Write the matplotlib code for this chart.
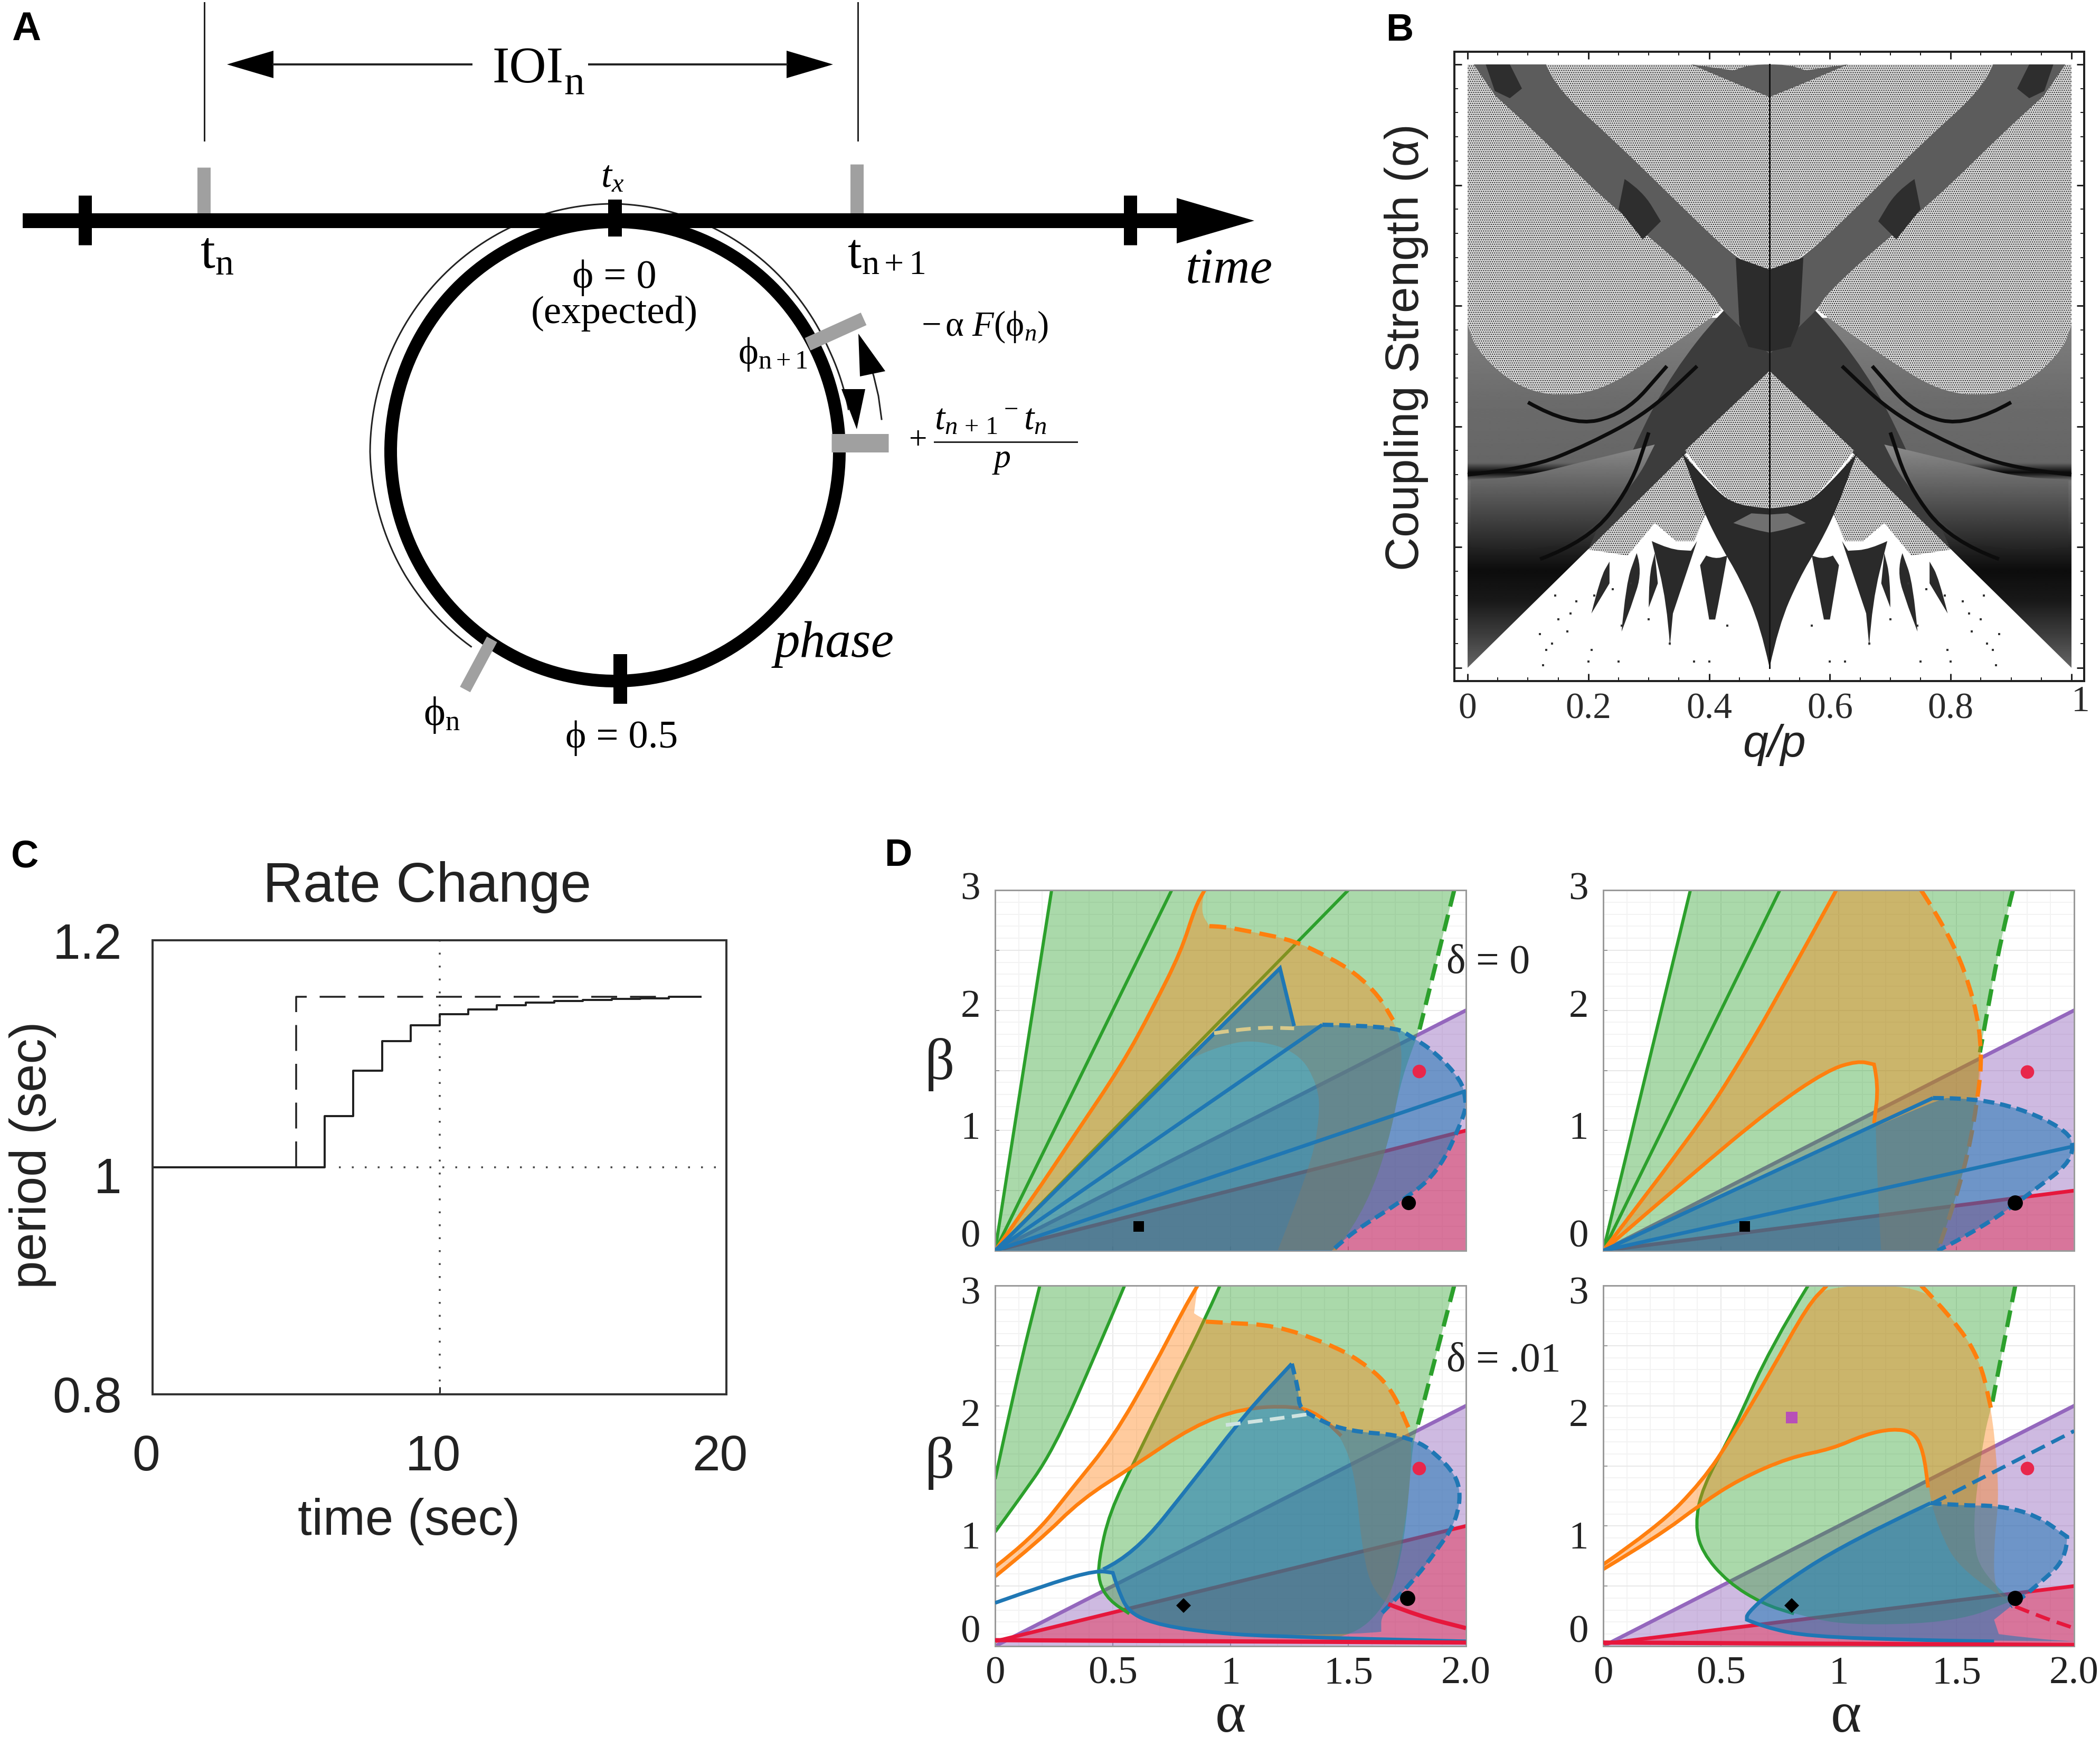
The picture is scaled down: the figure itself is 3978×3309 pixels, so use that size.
import numpy as np
import matplotlib
matplotlib.use('Agg')
import matplotlib.pyplot as plt
from matplotlib.patches import Polygon, PathPatch
from matplotlib.path import Path
from matplotlib.transforms import ScaledTranslation

W, H = 3978, 3309
DPI = 100
SERIF = 'Liberation Serif'
SANS = 'Liberation Sans'

plt.rcParams['font.family'] = [SERIF, 'DejaVu Serif']
plt.rcParams['mathtext.fontset'] = 'custom'
plt.rcParams['mathtext.rm'] = SERIF
plt.rcParams['mathtext.it'] = SERIF + ':italic'
plt.rcParams['hatch.linewidth'] = 0.9

# ---- panel A, diagram (image pixels) ----
time_axis_x = [43, 2240]
time_axis_y = [418, 418]
time_head = [(2229, 375), (2376, 418), (2229, 461)]
time_ticks_x = [161, 2141]
time_ticks_y = [370, 464]
grey_ticks = [(386, 317, 405), (1623, 311, 405)]
ioi_guides_x = [387, 1625]
ioi_guides_y = [5, 266]
ioi_y = 122
ioi_left = [518, 893]
ioi_right = [1116, 1490]
ioi_head_left = [(430, 122), (518, 96), (518, 148)]
ioi_head_right = [(1578, 122), (1490, 96), (1490, 148)]
circle_centre = (1165, 855)
circle_radii = (425, 435)
thin_arc_angle = [-143, -120, -90, -45, 0, 30, 50, 65, 80]
thin_arc_offset = [28, 34, 39, 36, 34, 28, 24, 22, 24]
down_head = [(1594, 737), (1639, 737), (1623, 813)]
up_arrow_x = [1670, 1664, 1655, 1642]
up_arrow_y = [794, 750, 712, 670]
up_head = [(1626, 632), (1677, 703), (1629, 713)]
phi_next_bar = [(1530, 652), (1636, 604)]
phi_right_bar = [(1575, 839), (1683, 839)]
phi_n_bar = [(932, 1211), (881, 1306)]
circle_tick_top = [(1165, 378), (1165, 448)]
circle_tick_bottom = [(1175, 1239), (1175, 1333)]
fraction_bar = [(1770, 837), (2040, 837)]

# ---- panel B, regions, left half (mirrored about 0.5) ----
b_xticks = [0, 0.2, 0.4, 0.6, 0.8, 1]
b_xticklabels = ['0', '0.2', '0.4', '0.6', '0.8', '']
b_yticks = [0, 1, 2, 3, 4, 5]
b_grad_alpha = [0, 0.2, 0.55, 0.8, 1.0, 1.3, 1.55, 1.62, 1.7, 2.2, 2.7, 2.9]
b_grad_grey = [0.40, 0.28, 0.10, 0.05, 0.14, 0.32, 0.45, 0.04, 0.40, 0.42, 0.48, 0.5]
b_dark_wedge = [(0, 0), (.5, 2.46), (.5, 3.3), (.42, 2.96), (.317, 2.6), (.22, 2.29), (.134, 2.25),
                (.07, 2.37), (.014, 2.64), (0, 2.85)]
b_fan = [(.5, 2.46), (.36, 1.77), (.2, .98), (.28, 1.9), (.34, 2.45), (.42, 2.96), (.5, 3.3)]
b_lobe = [(.005, 1.0), (.1, .95), (.2, 1.1), (.28, 1.55), (.31, 1.85), (.2, 1.72), (.09, 1.58), (.005, 1.56)]
b_lobe_alpha = [0.9, 1.85]
b_lobe_grey = [0.10, 0.55]
b_vein_1 = [(0, 1.6), (.1, 1.65), (.2, 1.85), (.3, 2.12), (.38, 2.5)]
b_vein_2 = [(.1, 2.2), (.17, 2.0), (.26, 2.1), (.33, 2.5)]
b_vein_3 = [(.12, .9), (.2, 1.05), (.27, 1.5), (.3, 1.95)]
b_band = [(.01, 5), (.13, 5), (.143, 4.82), (.245, 4.36), (.357, 3.81), (.436, 3.43), (.5, 3.23), (.5, 2.6),
          (.42, 2.96), (.412, 3.06), (.35, 3.36), (.253, 3.77), (.197, 4.02), (.118, 4.41), (.046, 4.74)]
b_band_dark = [(.26, 4.05), (.29, 3.95), (.32, 3.7), (.29, 3.55), (.25, 3.8)]
b_corner_dark = [(.03, 5), (.07, 5), (.09, 4.8), (.07, 4.72), (.045, 4.78)]
b_centre_block = [(.444, 3.4), (.5, 3.3), (.5, 2.62), (.465, 2.66), (.45, 2.85)]
b_sp_top = [(.13, 5), (.5, 5), (.5, 3.23), (.436, 3.43), (.357, 3.81), (.245, 4.36), (.143, 4.82)]
b_top_arc = [(.37, 5), (.44, 4.85), (.5, 4.73), (.5, 5), (.47, 5), (.44, 4.95)]
b_sp_left = [(0, 5), (.01, 5), (.046, 4.74), (.118, 4.41), (.197, 4.02), (.253, 3.77), (.35, 3.36), (.412, 3.06),
             (.42, 2.96), (.317, 2.6), (.22, 2.29), (.134, 2.25), (.07, 2.37), (.014, 2.64), (0, 2.85)]
b_sp_diamond = [(.5, 2.46), (.36, 1.80), (.412, 1.47), (.445, 1.35), (.47, 1.33), (.5, 1.32)]
b_sp_lower = [(.36, 1.77), (.2, .98), (.265, .93), (.31, 1.2), (.345, 1.05), (.375, 1.05), (.41, 1.45)]
b_half_tongue = [(.5, 0), (.485, .35), (.45, .75), (.42, 1.0), (.39, 1.3), (.355, 1.78), (.41, 1.47), (.445, 1.35),
                 (.5, 1.32)]
b_half_lobe = [(.44, 1.2), (.47, 1.15), (.5, 1.12), (.5, 1.27), (.47, 1.28)]
b_tongues = [
    [(.335, .18), (.33, .55), (.305, 1.05), (.335, .98), (.37, .97), (.38, 1.05), (.36, .75), (.34, .45)],
    [(.40, .4), (.385, .85), (.395, .93), (.41, .9), (.43, .93), (.42, .65), (.41, .4)],
    [(.255, .3), (.262, .7), (.28, .95), (.29, .8), (.27, .5)],
    [(.205, .45), (.22, .75), (.235, .88), (.235, .7)],
    [(.3, .5), (.3, .75), (.31, .95), (.315, .7)],
]
b_dot_q = [.125, .2, .25, .335, .375, .4, .43, .255, .205, .165, .14, .15, .18, .21, .24, .27, .3, .13, .17, .12, .145]
b_dot_a = [.02, .05, .05, .2, .05, .05, .35, .35, .15, .3, .2, .4, .55, .6, .65, .7, .4, .15, .45, .28, .6]

# ---- panel C ----
c_step_t = [0, 6, 7, 8, 9, 10, 11, 12, 13, 14, 15, 16, 17, 18, 19.1]
c_step_p = [1.0, 1.045, 1.085, 1.111, 1.125, 1.135, 1.139, 1.143, 1.145, 1.1467, 1.1475, 1.1484, 1.149, 1.15, 1.15]
c_target_t = [5, 5, 19]
c_target_p = [1.0, 1.15, 1.15]
c_dot_h_t = [6.5, 20]
c_dot_v_p = [0.8, 1.2]

# ---- panel D, boundaries (alpha, beta) ----
d_xticks = [0, 0.5, 1, 1.5, 2]
d_xticklabels = ['0', '0.5', '1', '1.5', '2.0']
d_yticks = [0, 1, 2, 3]

d1_green = [(0, 0), (.24, 3), (1.95, 3), (1.80, 1.82), (1.77, 1.67), (1.72, 1.38), (1.67, .89), (1.58, .39), (1.45, 0)]
d1_green_lines = [[(0, 0), (.24, 3)], [(0, 0), (.75, 3)], [(0, 0), (1.5, 3)]]
d1_green_dash = [(1.95, 3), (1.80, 1.82)]
d1_orange = [(0, 0), (.16, .44), (.33, .94), (.54, 1.55), (.67, 2.02), (.79, 2.49), (.85, 2.86), (.89, 3), (.87, 2.83), (.91, 2.70),
             (.96, 2.70), (1.1, 2.65), (1.27, 2.58), (1.42, 2.44), (1.53, 2.31), (1.63, 2.12), (1.69, 1.92), (1.73, 1.70),
             (1.72, 1.38), (1.67, .89), (1.58, .39), (1.45, 0), (1.2, 0),
             (1.34, .69), (1.38, 1.13), (1.37, 1.38), (1.29, 1.65), (1.10, 1.76), (.95, 1.70), (.81, 1.58)]
d1_orange_line = [(0, 0), (.16, .44), (.33, .94), (.54, 1.55), (.67, 2.02), (.79, 2.49), (.85, 2.86), (.89, 3)]
d1_orange_dash = [(.91, 2.70), (.96, 2.70), (1.1, 2.65), (1.27, 2.58), (1.42, 2.44), (1.53, 2.31), (1.63, 2.12), (1.69, 1.92)]
d1_blue = [(0, 0), (1.21, 2.35), (1.24, 2.02), (1.27, 1.87), (1.39, 1.88), (1.69, 1.87), (1.77, 1.78), (1.87, 1.65),
           (1.98, 1.42), (2.0, 1.25), (1.995, 1.13), (1.88, .64), (1.71, .39), (1.53, .17), (1.43, 0)]
d1_blue_lines = [[(0, 0), (1.21, 2.35), (1.27, 1.87)], [(0, 0), (1.39, 1.88)], [(0, 0), (2, 1.33)]]
d1_blue_dash = [(1.39, 1.88), (1.69, 1.87), (1.77, 1.78), (1.87, 1.65), (1.98, 1.42), (2.0, 1.25), (1.995, 1.13),
                (1.88, .64), (1.71, .39), (1.53, .17), (1.43, 0)]
d1_pale_dash = [(.93, 1.81), (1.1, 1.86), (1.27, 1.85)]
d1_purple = [(0, 0), (2, 2), (2, 0)]
d1_red = [(0, 0), (2, 1), (2, 0)]
d1_marks = [('s', .61, .2, 'black', 13), ('o', 1.755, .40, 'black', 17), ('o', 1.80, 1.495, '#e8274b', 16)]

d2_green = [(0, 0), (.37, 3), (1.74, 3), (1.69, 2.61), (1.62, 1.87), (1.60, 1.65), (1.59, 1.26), (1.55, .81),
            (1.49, .39), (1.42, 0)]
d2_green_lines = [[(0, 0), (.37, 3)], [(0, 0), (.75, 3)]]
d2_green_dash = [(1.74, 3), (1.69, 2.61), (1.62, 1.87), (1.60, 1.65)]
d2_orange = [(0, 0), (.39, .99), (.60, 1.63), (.81, 2.36), (.99, 3), (1.35, 3), (1.48, 2.61), (1.58, 2.07), (1.61, 1.63),
             (1.59, 1.26), (1.55, .81), (1.49, .39), (1.42, 0), (1.18, 0), (1.15, 1.06), (1.17, 1.38), (1.15, 1.55),
             (1.08, 1.58), (.95, 1.50), (.71, 1.18), (.39, .66)]
d2_orange_line = [(0, 0), (.39, .99), (.60, 1.63), (.81, 2.36), (.99, 3)]
d2_orange_line2 = [(0, 0), (.39, .66), (.71, 1.18), (.95, 1.50), (1.08, 1.58), (1.15, 1.55), (1.17, 1.38), (1.15, 1.06)]
d2_orange_dash = [(1.35, 3), (1.48, 2.61), (1.58, 2.07), (1.61, 1.63), (1.59, 1.26), (1.55, .81), (1.49, .39), (1.42, 0)]
d2_blue = [(0, 0), (1.40, 1.27), (1.52, 1.27), (1.68, 1.23), (1.84, 1.13), (1.97, .99), (2.0, .87), (1.97, .71),
           (1.84, .52), (1.69, .30), (1.52, .10), (1.42, 0)]
d2_blue_lines = [[(0, 0), (1.40, 1.27)], [(0, 0), (2, .87)]]
d2_blue_dash = [(1.40, 1.27), (1.52, 1.27), (1.68, 1.23), (1.84, 1.13), (1.97, .99), (2.0, .87), (1.97, .71),
                (1.84, .52), (1.69, .30), (1.52, .10), (1.42, 0)]
d2_purple = [(0, 0), (2, 2), (2, 0)]
d2_red = [(0, 0), (2, .5), (2, 0)]
d2_marks = [('s', .60, .2, 'black', 13), ('o', 1.75, .40, 'black', 18), ('o', 1.80, 1.49, '#e8274b', 16)]

d3_green_a = [(0, 1.39), (.09, 2.21), (.19, 3), (.55, 3), (.43, 2.44), (.245, 1.62), (.09, 1.19), (0, .95)]
d3_green_b = [(.955, 3), (.88, 2.67), (.74, 2.13), (.60, 1.57), (.485, 1.11), (.44, .71), (.44, .53), (.485, .38),
              (.57, .27), (.67, .19), (.83, .12), (1.2, .07), (1.5, .05), (1.67, .35), (1.74, .86), (1.77, 1.62),
              (1.79, 1.80), (1.95, 3)]
d3_green_lines = [[(0, 1.39), (.09, 2.21), (.19, 3)], [(.55, 3), (.43, 2.44), (.245, 1.62), (.09, 1.19), (0, .95)],
                  [(.955, 3), (.88, 2.67), (.74, 2.13), (.60, 1.57), (.485, 1.11), (.44, .71), (.44, .53), (.485, .38),
                   (.57, .27)]]
d3_green_dash = [(1.95, 3), (1.79, 1.80)]
d3_orange = [(0, .66), (.16, .90), (.33, 1.32), (.50, 1.73), (.67, 2.31), (.80, 2.8), (.86, 3), (.845, 2.77), (.895, 2.70),
             (.98, 2.69), (1.19, 2.67), (1.41, 2.52), (1.55, 2.38), (1.68, 2.16), (1.76, 1.80), (1.77, 1.57), (1.75, 1.11), (1.70, .6),
             (1.67, .35), (1.60, .45), (1.555, .86), (1.53, 1.42), (1.47, 1.75), (1.375, 1.93), (1.27, 2.0), (1.05, 1.98),
             (.84, 1.83), (.59, 1.5), (.365, 1.22), (.19, .88), (0, .58)]
d3_orange_line = [(0, .66), (.16, .90), (.33, 1.32), (.50, 1.73), (.67, 2.31), (.80, 2.8), (.86, 3)]
d3_orange_line2 = [(0, .58), (.19, .88), (.365, 1.22), (.59, 1.5), (.84, 1.83), (1.05, 1.98), (1.27, 2.0), (1.375, 1.93),
                   (1.47, 1.75)]
d3_orange_dash = [(.895, 2.70), (.98, 2.69), (1.19, 2.67), (1.41, 2.52), (1.55, 2.38), (1.68, 2.16), (1.76, 1.80)]
d3_blue = [(.43, .63), (.59, .76), (.84, 1.37), (1.07, 1.95), (1.26, 2.35), (1.29, 2.13), (1.29, 2.0), (1.33, 1.93),
           (1.48, 1.79), (1.77, 1.75), (1.92, 1.52), (1.98, 1.32), (1.96, 1.04), (1.87, .78), (1.77, .53), (1.64, .27),
           (1.64, .12), (1.56, .10), (1.0, .09), (.71, .17), (.57, .27), (.52, .48), (.50, .61)]
d3_blue_lines = [[(0, .36), (.245, .53), (.43, .63), (.50, .61), (.52, .48), (.57, .27), (.71, .17), (.93, .11), (1.19, .08),
                  (2, .04)], [(.46, .64), (.59, .76), (.84, 1.37), (1.07, 1.95), (1.26, 2.35)]]
d3_blue_dash = [(1.26, 2.35), (1.29, 2.13), (1.29, 2.0), (1.33, 1.93), (1.48, 1.79), (1.77, 1.75), (1.92, 1.52), (1.98, 1.32),
                (1.96, 1.04), (1.87, .78), (1.77, .53), (1.64, .27)]
d3_pale_dash = [(.98, 1.84), (1.15, 1.88), (1.33, 1.93)]
d3_purple = [(0, 0), (2, 2), (2, 0)]
d3_red = [(0, .04), (2, 1.0), (2, .03)]
d3_red_curve = [(1.67, .35), (1.8, .25), (2.0, .15)]
d3_red_base = [(0, .05), (2, .03)]
d3_marks = [('D', .80, .34, 'black', 12), ('o', 1.75, .40, 'black', 18), ('o', 1.80, 1.48, '#e8274b', 16)]

d4_green = [(.87, 3), (.71, 2.49), (.55, 1.78), (.42, 1.32), (.39, 1.01), (.42, .78), (.53, .53), (.68, .35), (.81, .27),
            (1.03, .17), (1.5, .2), (1.74, .38), (1.60, .60), (1.57, .95), (1.59, 1.37), (1.62, 1.78), (1.65, 2.0),
            (1.68, 2.31), (1.75, 3)]
d4_green_lines = [[(.87, 3), (.71, 2.49), (.55, 1.78), (.42, 1.32), (.39, 1.01), (.42, .78), (.53, .53), (.68, .35), (.81, .27)]]
d4_green_dash = [(1.75, 3), (1.68, 2.31), (1.65, 2.0)]
d4_orange = [(0, .68), (.23, .99), (.42, 1.37), (.55, 1.75), (.71, 2.28), (.87, 2.84), (.95, 3), (1.35, 3), (1.48, 2.74),
             (1.60, 2.39), (1.65, 1.95), (1.67, 1.57), (1.68, 1.22), (1.66, .86), (1.66, .48), (1.72, .38), (1.52, .61),
             (1.42, .99), (1.38, 1.32), (1.36, 1.62), (1.32, 1.78), (1.23, 1.81), (1.11, 1.76), (.97, 1.64), (.79, 1.57),
             (.58, 1.39), (.42, 1.19), (.23, .91), (0, .64)]
d4_orange_line = [(0, .68), (.23, .99), (.42, 1.37), (.55, 1.75), (.71, 2.28), (.87, 2.84), (.95, 3)]
d4_orange_line2 = [(0, .64), (.23, .91), (.42, 1.19), (.58, 1.39), (.79, 1.57), (.97, 1.64), (1.11, 1.76), (1.23, 1.81),
                   (1.32, 1.78), (1.36, 1.62), (1.38, 1.32)]
d4_orange_dash = [(1.35, 3), (1.48, 2.74), (1.60, 2.39), (1.65, 1.95)]
d4_blue = [(.61, .27), (.71, .45), (1.03, .86), (1.39, 1.19), (1.52, 1.17), (1.68, 1.17), (1.84, 1.09), (1.97, .91), (1.97, .73),
           (1.84, .50), (1.73, .33), (1.66, .22), (1.68, .10), (1.84, .06), (2, .04), (1.35, .05), (.87, .08), (.68, .16), (.61, .22)]
d4_blue_lines = [[(1.39, 1.19), (1.03, .86), (.71, .45), (.61, .27), (.61, .22), (.68, .16), (.87, .08), (1.35, .05), (1.66, .04)]]
d4_blue_dash = [(1.39, 1.19), (1.52, 1.17), (1.68, 1.17), (1.84, 1.09), (1.97, .91), (1.97, .73), (1.84, .50), (1.73, .33)]
d4_blue_dash2 = [(1.40, 1.19), (2, 1.79)]
d4_purple = [(0, 0), (2, 2), (2, 0)]
d4_red = [(0, .02), (2, .5), (2, 0)]
d4_red_curve = [(1.75, .33), (1.85, .25), (2.0, .15)]
d4_red_base = [(0, .03), (2, .01)]
d4_marks = [('D', .80, .34, 'black', 12), ('o', 1.75, .40, 'black', 18), ('o', 1.80, 1.48, '#e8274b', 16),
            ('s', .80, 1.90, '#b84fb8', 14)]

GREEN = '#2ca02c'
ORANGE = '#ff7f0e'
BLUE = '#1f77b4'
PURPLE = '#9467bd'
RED = '#e6173c'


def px(v):
    # line widths below are given in image pixels
    return v * 72 / DPI


def make_axes(fig, left, top, right, bottom):
    return fig.add_axes([left / W, 1 - bottom / H, (right - left) / W, (bottom - top) / H])


def mirrored(points):
    return [(1 - q, a) for q, a in points]


def xy(points):
    return [p[0] for p in points], [p[1] for p in points]


def smooth_path(points, closed=False, aspect=2.0, corner=55):
    # quadratic bezier path through the read points, sharp turns stay corners
    p = np.array(points, float)
    verts = [p[0]]
    codes = [Path.MOVETO]
    for i in range(1, len(p) - 1):
        a = (p[i] - p[i - 1]) * [aspect, 1]
        b = (p[i + 1] - p[i]) * [aspect, 1]
        cosang = np.dot(a, b) / (np.linalg.norm(a) * np.linalg.norm(b) + 1e-9)
        if np.degrees(np.arccos(np.clip(cosang, -1, 1))) > corner:
            verts.append(p[i])
            codes.append(Path.LINETO)
        else:
            verts += [p[i], (p[i] + p[i + 1]) / 2]
            codes += [Path.CURVE3, Path.CURVE3]
    verts.append(p[-1])
    codes.append(Path.LINETO)
    if closed:
        verts.append(p[0])
        codes.append(Path.CLOSEPOLY)
    return Path(verts, codes)


def curve(ax, points, colour, width, zorder, dashes=None):
    style = (0, dashes) if dashes else 'solid'
    ax.add_patch(PathPatch(smooth_path(points), facecolor='none', edgecolor=colour, lw=px(width), ls=style, zorder=zorder,
                           capstyle='butt'))


def region(ax, points, colour, alpha, zorder):
    ax.add_patch(PathPatch(smooth_path(points, closed=True), facecolor=colour, edgecolor='none', alpha=alpha, lw=0,
                           zorder=zorder))


def shift_label(label, dx, dy):
    label.set_transform(label.get_transform() + ScaledTranslation(dx / DPI, dy / DPI, label.figure.dpi_scale_trans))


def draw_panel_a(ov):
    ov.plot(time_axis_x, time_axis_y, color='black', lw=px(28), solid_capstyle='butt', zorder=4)
    ov.add_patch(Polygon(time_head, color='black', lw=0, zorder=4))
    for x in time_ticks_x:
        ov.plot([x, x], time_ticks_y, color='black', lw=px(25), solid_capstyle='butt', zorder=4)
    for x, y0, y1 in grey_ticks:
        ov.plot([x, x], [y0, y1], color='#a0a0a0', lw=px(25), solid_capstyle='butt', zorder=2)
    for x in ioi_guides_x:
        ov.plot([x, x], ioi_guides_y, color='#222222', lw=px(3))
    ov.plot(ioi_left, [ioi_y, ioi_y], color='#222222', lw=px(4))
    ov.plot(ioi_right, [ioi_y, ioi_y], color='#222222', lw=px(4))
    ov.add_patch(Polygon(ioi_head_left, color='black', lw=0))
    ov.add_patch(Polygon(ioi_head_right, color='black', lw=0))

    theta = np.linspace(0, 2 * np.pi, 400)
    ov.plot(circle_centre[0] + circle_radii[0] * np.sin(theta), circle_centre[1] - circle_radii[1] * np.cos(theta),
            color='black', lw=px(24), zorder=3)
    deg = np.linspace(thin_arc_angle[0], thin_arc_angle[-1], 300)
    off = np.interp(deg, thin_arc_angle, thin_arc_offset)
    ov.plot(circle_centre[0] + (circle_radii[0] + off) * np.sin(np.radians(deg)),
            circle_centre[1] - (circle_radii[1] + off) * np.cos(np.radians(deg)), color='#222222', lw=px(3), zorder=2)
    ov.add_patch(Polygon(down_head, color='black', lw=0, zorder=6))
    ov.plot(up_arrow_x, up_arrow_y, color='#222222', lw=px(3), zorder=5)
    ov.add_patch(Polygon(up_head, color='black', lw=0, zorder=6))
    for bar, width in ((phi_next_bar, 26), (phi_right_bar, 35), (phi_n_bar, 22)):
        ov.plot(*xy(bar), color='#a0a0a0', lw=px(width), solid_capstyle='butt', zorder=5)
    for tick in (circle_tick_top, circle_tick_bottom):
        ov.plot(*xy(tick), color='black', lw=px(26), solid_capstyle='butt', zorder=6)
    ov.plot(*xy(fraction_bar), color='#222222', lw=px(3))

    ov.text(933, 156, 'IOI', fontsize=70, va='baseline')
    ov.text(1068, 178, 'n', fontsize=56, va='baseline')
    ov.text(379, 507, r'$\mathrm{t_n}$', fontsize=72, va='baseline')
    ov.text(1605, 507, r'$\mathrm{t_{n+1}}$', fontsize=68, va='baseline')
    ov.text(1160, 354, r'$t_x$', fontsize=52, va='baseline', ha='center')
    ov.text(2246, 536, 'time', fontsize=69, style='italic', va='baseline')
    ov.text(1164, 545, 'ϕ = 0', fontsize=55, va='baseline', ha='center')
    ov.text(1164, 612, '(expected)', fontsize=54, va='baseline', ha='center')
    ov.text(1398, 689, r'$\mathrm{ϕ_{n+1}}$', fontsize=52, va='baseline')
    ov.text(1745, 636, r'$-\,\mathrm{α}\ F(\mathrm{ϕ}_n)$', fontsize=48, va='baseline')
    ov.text(1722, 850, '+', fontsize=44, va='baseline')
    ov.text(1770, 813, r'$t_{n\,+\,1}\,^{-}\,t_n$', fontsize=50, va='baseline')
    ov.text(1897, 885, '$p$', fontsize=46, va='baseline', ha='center')
    ov.text(1467, 1244, 'phase', fontsize=70, style='italic', va='baseline')
    ov.text(802, 1373, r'$\mathrm{ϕ_n}$', fontsize=56, va='baseline')
    ov.text(1071, 1416, 'ϕ = 0.5', fontsize=54, va='baseline')


def speckle(ax, points, zorder=3):
    for pts in (points, mirrored(points)):
        ax.add_patch(PathPatch(smooth_path(pts, closed=True, aspect=5, corner=40), facecolor='#d6d6d6', edgecolor='#101010',
                               hatch='....', lw=0, zorder=zorder))


def solid(ax, points, grey, zorder=4):
    for pts in (points, mirrored(points)):
        ax.add_patch(PathPatch(smooth_path(pts, closed=True, aspect=5, corner=40), facecolor=grey, edgecolor='none', lw=0,
                               zorder=zorder))


def gradient(ax, points, stops_a, stops_g, zorder=2):
    rows = np.linspace(stops_a[0], stops_a[-1], 300)
    col = np.interp(rows, stops_a, stops_g).reshape(-1, 1)
    for pts in (points, mirrored(points)):
        im = ax.imshow(col, origin='lower', cmap='gray', vmin=0, vmax=1, aspect='auto', interpolation='bilinear',
                       extent=(0, 1, stops_a[0], stops_a[-1]), zorder=zorder)
        patch = PathPatch(smooth_path(pts, closed=True, aspect=5, corner=40), facecolor='none', edgecolor='none')
        ax.add_patch(patch)
        im.set_clip_path(patch)


def draw_panel_b(fig):
    ax = make_axes(fig, 2755, 98, 3948, 1290)
    gradient(ax, b_dark_wedge, b_grad_alpha, b_grad_grey)
    solid(ax, b_fan, '#3c3c3c', 2.5)
    gradient(ax, b_lobe, b_lobe_alpha, b_lobe_grey, zorder=2.6)
    for vein in (b_vein_1, b_vein_2, b_vein_3):
        for pts in (vein, mirrored(vein)):
            ax.add_patch(PathPatch(smooth_path(pts, aspect=5, corner=80), facecolor='none', edgecolor='#0c0c0c', lw=px(7),
                                   zorder=2.8))
    speckle(ax, b_sp_top)
    speckle(ax, b_sp_left)
    speckle(ax, b_sp_diamond)
    speckle(ax, b_sp_lower)
    solid(ax, b_band, '#5c5c5c')
    solid(ax, b_top_arc, '#5e5e5e')
    solid(ax, b_band_dark, '#2e2e2e', 5)
    solid(ax, b_corner_dark, '#2e2e2e', 5)
    solid(ax, b_centre_block, '#2c2c2c', 5)
    solid(ax, b_half_tongue, '#2a2a2a', 6)
    solid(ax, b_half_lobe, '#707070', 6.5)
    for tongue in b_tongues:
        solid(ax, tongue, '#2a2a2a', 6)
    ax.scatter(list(b_dot_q) + [1 - q for q in b_dot_q], list(b_dot_a) * 2, s=px(4) ** 2, marker='s', color='#333333',
               lw=0, zorder=6)
    ax.plot([0.5, 0.5], [0, 5], color='#111111', lw=px(3), zorder=7)

    ax.set_xlim(-0.0219, 1.021)
    ax.set_ylim(-0.11, 5.105)
    ax.set_xticks(b_xticks)
    ax.set_xticklabels(b_xticklabels, fontsize=50, color='#2a2a2a')
    ax.set_yticks(b_yticks)
    ax.set_yticklabels([])
    ax.set_xticks(np.arange(0, 1.01, 0.05), minor=True)
    ax.set_yticks(np.arange(0, 5.01, 0.2), minor=True)
    ax.tick_params(which='major', direction='in', top=True, right=True, length=10, width=px(3), pad=16, color='#222222')
    ax.tick_params(which='minor', direction='in', top=True, right=True, length=5, width=px(2), color='#222222')
    for sp in ax.spines.values():
        sp.set_linewidth(px(4))
        sp.set_color('#222222')
    ax.set_zorder(2)


def draw_panel_c(fig):
    ax = make_axes(fig, 289, 1781, 1376, 2641)
    ax.step(c_step_t, c_step_p, where='post', color='#222222', lw=px(4))
    ax.plot(c_target_t, c_target_p, color='#222222', lw=px(3.5), dashes=(14, 7))
    ax.plot(c_dot_h_t, [1, 1], color='#444444', lw=px(3.5), ls=(0, (1, 6)))
    ax.plot([10, 10], c_dot_v_p, color='#444444', lw=px(3.5), ls=(0, (1, 6)))
    ax.set_xlim(0, 20)
    ax.set_ylim(0.8, 1.2)
    ax.set_xticks([0, 10, 20])
    ax.set_xticklabels(['0', '10', '20'], fontsize=68, family=SANS, color='#222222')
    ax.set_yticks([0.8, 1, 1.2])
    ax.set_yticklabels(['0.8', '1', '1.2'], fontsize=68, family=SANS, color='#222222')
    ax.tick_params(axis='x', direction='in', length=10, width=px(3), pad=54, color='#222222')
    ax.tick_params(axis='y', direction='in', length=10, width=px(3), pad=42, color='#222222')
    for lab in ax.get_xticklabels():
        shift_label(lab, -12, 0)
    shift_label(ax.get_yticklabels()[1], 0, -14)
    for sp in ax.spines.values():
        sp.set_linewidth(px(4))
        sp.set_color('#333333')


def subpanel(fig, left, top, right, bottom, green, orange, blue, purple, red, g_lines, g_dash, o_lines, o_dash, b_lines,
             b_dash, marks, extras=None, xlabels=False, ytext=None):
    ax = make_axes(fig, left, top, right, bottom)
    ax.set_axisbelow(True)
    ax.set_xlim(0, 2)
    ax.set_ylim(0, 3)
    ax.set_xticks(np.arange(0, 2.01, 0.1), minor=True)
    ax.set_yticks(np.arange(0, 3.01, 0.1), minor=True)
    ax.grid(which='minor', color='#f3f3f3', lw=px(2))
    ax.set_xticks(d_xticks)
    ax.set_yticks([0, .5, 1, 1.5, 2, 2.5, 3])
    ax.grid(which='major', color='#e8e8e8', lw=px(2))
    ax.tick_params(which='both', length=0)
    ax.tick_params(which='major', direction='in', length=6, color='#999999', width=px(2))
    ax.set_yticklabels([])
    if xlabels:
        ax.set_xticklabels(d_xticklabels, fontsize=54, color='#222222')
        ax.tick_params(axis='x', pad=14)
    else:
        ax.set_xticklabels([])
    for sp in ax.spines.values():
        sp.set_color('#9a9a9a')
        sp.set_linewidth(px(3))

    ax.add_patch(Polygon(purple, facecolor=PURPLE, alpha=.45, lw=0, zorder=1))
    ax.add_patch(Polygon(red, facecolor=RED, alpha=.42, lw=0, zorder=1.1))
    ax.plot(*xy(purple[:2]), color=PURPLE, lw=px(7), zorder=1.2)
    ax.plot(*xy(red[:2]), color=RED, lw=px(7), zorder=1.2)
    for g in green:
        region(ax, g, GREEN, .4, 1.5)
    for line in g_lines:
        curve(ax, line, GREEN, 6, 1.6)
    curve(ax, g_dash, GREEN, 8, 1.6, dashes=(4, 2))
    region(ax, orange, ORANGE, .4, 2)
    for line in o_lines:
        curve(ax, line, ORANGE, 7, 2.1)
    curve(ax, o_dash, ORANGE, 8, 2.1, dashes=(4, 2))
    region(ax, blue, BLUE, .55, 3)
    for line in b_lines:
        curve(ax, line, BLUE, 7, 3.1)
    curve(ax, b_dash, BLUE, 8, 3.1, dashes=(2.6, 1.4))
    if extras:
        for pts, colour, dashed in extras:
            if dashed:
                curve(ax, pts, colour, 7, 3.2, dashes=(4, 2))
            else:
                curve(ax, pts, colour, 8, 3.2)
    for marker, a, b, colour, size in marks:
        ax.plot([a], [b], marker=marker, color=colour, ms=px(size * 1.6), mew=0, zorder=5, clip_on=False)
    for value, dy in zip(d_yticks, ytext):
        ax.annotate(str(value), xy=(0, value), xycoords=ax.get_yaxis_transform(), xytext=(-28, dy),
                    textcoords='offset pixels', ha='right', va='center', fontsize=54, color='#222222',
                    annotation_clip=False)
    return ax


def draw_panel_d(fig):
    subpanel(fig, 1885, 1686, 2777, 2369, [d1_green], d1_orange, d1_blue, d1_purple, d1_red, d1_green_lines, d1_green_dash,
             [d1_orange_line], d1_orange_dash, d1_blue_lines, d1_blue_dash, d1_marks,
             extras=[(d1_pale_dash, '#d8c98a', True)], ytext=[25, 2, 5, 0])
    subpanel(fig, 3037, 1686, 3929, 2369, [d2_green], d2_orange, d2_blue, d2_purple, d2_red, d2_green_lines, d2_green_dash,
             [d2_orange_line, d2_orange_line2], d2_orange_dash, d2_blue_lines, d2_blue_dash, d2_marks, ytext=[25, 2, 5, 0])
    subpanel(fig, 1885, 2435, 2777, 3118, [d3_green_a, d3_green_b], d3_orange, d3_blue, d3_purple, d3_red, d3_green_lines,
             d3_green_dash, [d3_orange_line, d3_orange_line2], d3_orange_dash, d3_blue_lines, d3_blue_dash, d3_marks,
             extras=[(d3_red_curve, RED, False), (d3_red_base, RED, False), (d3_pale_dash, '#cfe3e0', True)], xlabels=True,
             ytext=[25, -25, -21, -17])
    subpanel(fig, 3037, 2435, 3929, 3118, [d4_green], d4_orange, d4_blue, d4_purple, d4_red, d4_green_lines, d4_green_dash,
             [d4_orange_line, d4_orange_line2], d4_orange_dash, d4_blue_lines, d4_blue_dash, d4_marks,
             extras=[(d4_blue_dash2, BLUE, True), (d4_red_curve, RED, True), (d4_red_base, RED, False)], xlabels=True,
             ytext=[25, -25, -21, -17])


def main():
    fig = plt.figure(figsize=(W / DPI, H / DPI), dpi=DPI, facecolor='white')
    ov = fig.add_axes([0, 0, 1, 1])
    ov.set_xlim(0, W)
    ov.set_ylim(H, 0)
    ov.axis('off')
    ov.set_zorder(5)

    draw_panel_a(ov)
    draw_panel_b(fig)
    draw_panel_c(fig)
    draw_panel_d(fig)

    # panel letters
    ov.text(22, 76, 'A', fontsize=55, family=SANS, weight='bold', va='baseline')
    ov.text(2625, 77, 'B', fontsize=52, family=SANS, weight='bold', va='baseline')
    ov.text(21, 1642, 'C', fontsize=52, family=SANS, weight='bold', va='baseline')
    ov.text(1675, 1640, 'D', fontsize=52, family=SANS, weight='bold', va='baseline')

    # panel B labels
    ov.text(2664, 658, 'Coupling Strength (α)', fontsize=64, family=SANS, rotation=90, ha='center', va='center',
            color='#222222')
    ov.text(3361, 1411, 'q/p', fontsize=62, family=SANS, style='italic', ha='center', va='center', color='#222222')
    ov.text(3941, 1330, '1', fontsize=50, ha='center', va='center', color='#2a2a2a')

    # panel C labels
    ov.text(809, 1680, 'Rate Change', fontsize=76, family=SANS, ha='center', va='center', color='#222222')
    ov.text(775, 2882, 'time (sec)', fontsize=69, family=SANS, ha='center', va='center', color='#222222')
    ov.text(62, 2188, 'period (sec)', fontsize=69, family=SANS, rotation=90, ha='center', va='center', color='#222222')

    # panel D labels
    ov.text(1780, 2016, 'β', fontsize=80, ha='center', va='center', color='#222222')
    ov.text(1780, 2771, 'β', fontsize=80, ha='center', va='center', color='#222222')
    ov.text(2331, 3280, 'α', fontsize=80, ha='center', va='baseline', color='#222222')
    ov.text(3497, 3280, 'α', fontsize=80, ha='center', va='baseline', color='#222222')
    ov.text(2740, 1824, 'δ = 0', fontsize=56, va='center', color='#222222')
    ov.text(2740, 2578, 'δ = .01', fontsize=56, va='center', color='#222222')

    fig.savefig('out.png', dpi=DPI, facecolor='white')


if __name__ == "__main__":
    main()
